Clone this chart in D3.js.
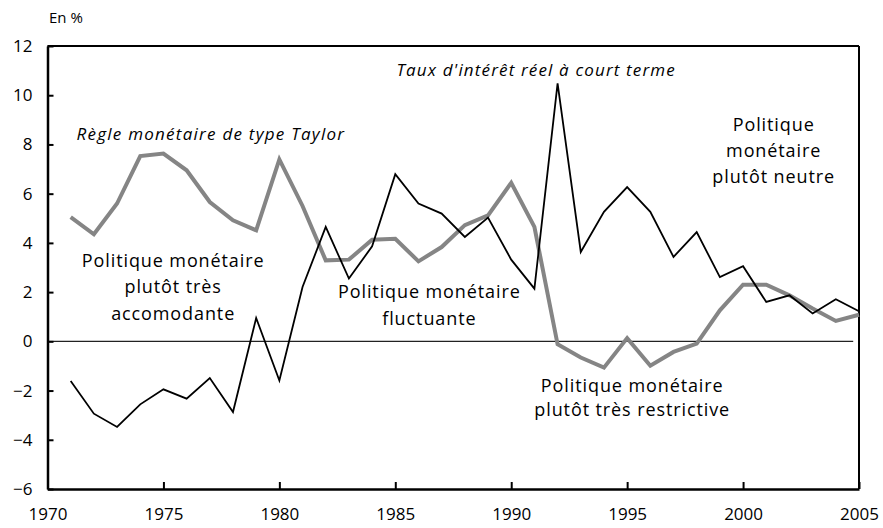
<!DOCTYPE html>
<html><head><meta charset="utf-8">
<script src="https://cdn.jsdelivr.net/npm/d3@7"></script>
<style>
html,body{margin:0;padding:0;background:#fff;}
svg text{font-family:"Open Sans",sans-serif;fill:#000;}
</style></head>
<body><svg id="c" width="883" height="528"></svg>
<script>
const years = d3.range(1971, 2006);
const taylor = [5.05,4.35,5.6,7.53,7.63,6.95,5.66,4.92,4.51,7.39,5.5,3.29,3.32,4.13,4.17,3.25,3.83,4.72,5.12,6.44,4.65,-0.12,-0.66,-1.07,0.13,-0.99,-0.43,-0.09,1.26,2.3,2.3,1.87,1.33,0.83,1.08];
const realRate = [-1.61,-2.94,-3.48,-2.56,-1.95,-2.33,-1.49,-2.87,0.95,-1.59,2.21,4.65,2.55,3.86,6.79,5.6,5.19,4.24,5.03,3.32,2.14,10.48,3.63,5.26,6.27,5.26,3.43,4.44,2.61,3.05,1.6,1.87,1.13,1.71,1.22];
const xTicks = [1970,1975,1980,1985,1990,1995,2000,2005];
const yTicks = [-6,-4,-2,0,2,4,6,8,10,12];
const unitLabel = "En %";
const seriesLabels = ["Règle monétaire de type Taylor","Taux d'intérêt réel à court terme"];
const regimeLines = [
  ["Politique monétaire","plutôt très","accomodante"],
  ["Politique monétaire","fluctuante"],
  ["Politique monétaire","plutôt très restrictive"],
  ["Politique","monétaire","plutôt neutre"]
];

// annotation anchors (layout, in data coordinates) and line gaps
const regimeLayout = [
  {year:1975.4, v:3.03, gap:26.6},
  {year:1986.45, v:1.75, gap:26.7},
  {year:1995.2, v:-2.05, gap:24.3},
  {year:2001.3, v:8.56, gap:26.3}
];

const svg = d3.select("#c");
const x = d3.scaleLinear().domain([1970,2005]).range([47.5,859]);
const y = d3.scaleLinear().domain([-6,12]).range([489,46]);

// frame
svg.append("line").attr("x1",x(1970)).attr("x2",x(2005)).attr("y1",y(12)).attr("y2",y(12)).attr("stroke","#000").attr("stroke-width",2);
svg.append("line").attr("x1",x(2005)).attr("x2",x(2005)).attr("y1",y(12)).attr("y2",y(-6)).attr("stroke","#000").attr("stroke-width",2);

// zero line
svg.append("line").attr("x1",x(1970)).attr("x2",x(2004.75)).attr("y1",y(0)).attr("y2",y(0)).attr("stroke","#222").attr("stroke-width",1.2);

// axes
const gx = svg.append("g").attr("transform",`translate(0,${y(-6)})`)
  .call(d3.axisBottom(x).tickValues(xTicks).tickFormat(d3.format("d")).tickSizeInner(-7).tickSizeOuter(0).tickPadding(20));
const gy = svg.append("g").attr("transform",`translate(${x(1970)},0)`)
  .call(d3.axisLeft(y).tickValues(yTicks).tickSizeInner(-6).tickSizeOuter(0).tickPadding(15));
[gx,gy].forEach(g=>{
  g.select(".domain").attr("stroke","#000").attr("stroke-width",2.5);
  g.selectAll(".tick line").attr("stroke","#000").attr("stroke-width",2);
  g.selectAll(".tick text").attr("font-size",17).attr("font-family","'Open Sans', sans-serif").attr("fill","#000");
});
gx.selectAll(".tick text").attr("dy","0.65em");

const line = d3.line().x((d,i)=>x(years[i])).y(d=>y(d));
svg.append("path").datum(taylor).attr("d",line).attr("fill","none").attr("stroke","#858585").attr("stroke-width",4).attr("stroke-linejoin","miter");
svg.append("path").datum(realRate).attr("d",line).attr("fill","none").attr("stroke","#000").attr("stroke-width",1.8).attr("stroke-linejoin","miter");

// labels
svg.append("text").attr("x",49).attr("y",23).attr("font-size",15).text(unitLabel);
svg.append("text").attr("x",x(1971.25)).attr("y",y(8.2)).attr("font-size",17).attr("letter-spacing",1.25).attr("font-style","italic").text(seriesLabels[0]);
svg.append("text").attr("x",x(1985.05)).attr("y",y(10.77)).attr("font-size",17).attr("letter-spacing",1.15).attr("font-style","italic").text(seriesLabels[1]);

regimeLines.forEach((lines,k)=>{
  const L = regimeLayout[k];
  const t = svg.append("text").attr("text-anchor","middle").attr("font-size",18).attr("letter-spacing",0.9);
  lines.forEach((l,i)=>{
    t.append("tspan").attr("x",x(L.year)+0.45).attr("y",y(L.v)+i*L.gap).text(l);
  });
});
</script></body></html>
